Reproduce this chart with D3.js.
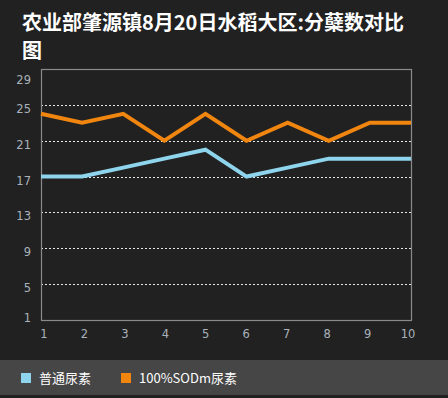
<!DOCTYPE html>
<html><head><meta charset="utf-8">
<script src="https://cdn.jsdelivr.net/npm/d3@7"></script>
<style>
html,body{margin:0;padding:0;background:#212121;}
svg{display:block;}
</style></head>
<body>
<script>
const categories = [1,2,3,4,5,6,7,8,9,10];
const seriesNames = ["普通尿素","100%SODm尿素"];
const normalUrea = [17,17,18,19,20,17,18,19,19,19];
const sodUrea = [24,23,24,21,24,21,23,21,23,23];
const yTicks = [1,5,9,13,17,21,25,29];
const colors = ["#8dd4ec","#f0850f"];
const title1 = "农业部肇源镇8月20日水稻大区:分蘖数对比";
const title2 = "图";

const W=448,H=398;
const svg=d3.select("body").append("svg").attr("width",W).attr("height",H);
svg.append("rect").attr("width",W).attr("height",H).attr("fill","#212121");

const L=41,R=411,T=69,B=320;
const x=d3.scaleLinear().domain([1,10]).range([L,R]);
const xl=d3.scaleLinear().domain([1,10]).range([44,408]);
const y=d3.scaleLinear().domain([1,29]).range([B,T]);

// title
const tf="'Noto Sans CJK SC','Noto Sans',sans-serif";
svg.append("text").attr("x",22).attr("y",30).attr("fill","#fff").attr("font-family",tf)
  .attr("font-weight","bold").attr("font-size",20).text(title1);
svg.append("text").attr("x",22).attr("y",58).attr("fill","#fff").attr("font-family",tf)
  .attr("font-weight","bold").attr("font-size",20).text(title2);

// grid
svg.append("g").selectAll("line").data(yTicks.filter(v=>v>1&&v<29)).join("line")
  .attr("x1",L).attr("x2",R).attr("y1",d=>Math.round(y(d))+0.5).attr("y2",d=>Math.round(y(d))+0.5)
  .attr("stroke","#e8e8e8").attr("stroke-width",1).attr("stroke-dasharray","2,2");

// border
svg.append("rect").attr("x",L+0.5).attr("y",T+0.5).attr("width",R-L).attr("height",B-T)
  .attr("fill","none").attr("stroke","#8a8a8a").attr("stroke-width",1.2);

// y labels
svg.append("g").selectAll("text").data(yTicks).join("text")
  .attr("x",31).attr("text-anchor","end")
  .attr("y",d=>Math.min(Math.max(y(d)+8,84),322))
  .attr("fill","#a9b2bb").attr("font-family","'DejaVu Sans',sans-serif").attr("font-size",11.5).text(d=>d);

// x labels
svg.append("g").selectAll("text").data(categories).join("text")
  .attr("x",d=>xl(d)).attr("y",338).attr("text-anchor","middle")
  .attr("fill","#a9b2bb").attr("font-family","'DejaVu Sans',sans-serif").attr("font-size",11.5).text(d=>d);

// lines
const line=d3.line().x((d,i)=>x(categories[i])).y(d=>y(d));
[normalUrea,sodUrea].forEach((s,k)=>{
  svg.append("path").datum(s).attr("d",line).attr("fill","none")
    .attr("stroke",colors[k]).attr("stroke-width",4).attr("stroke-linejoin","miter");
});

// legend band
svg.append("rect").attr("x",0).attr("y",360).attr("width",W).attr("height",35).attr("fill","#464646");
const lx=[21,121];
seriesNames.forEach((n,k)=>{
  svg.append("rect").attr("x",lx[k]).attr("y",373).attr("width",10).attr("height",10).attr("fill",colors[k]);
  svg.append("text").attr("x",lx[k]+18).attr("y",383).attr("fill","#fff")
    .attr("font-family",tf).attr("font-size",13).text(n);
});
</script>
</body></html>
